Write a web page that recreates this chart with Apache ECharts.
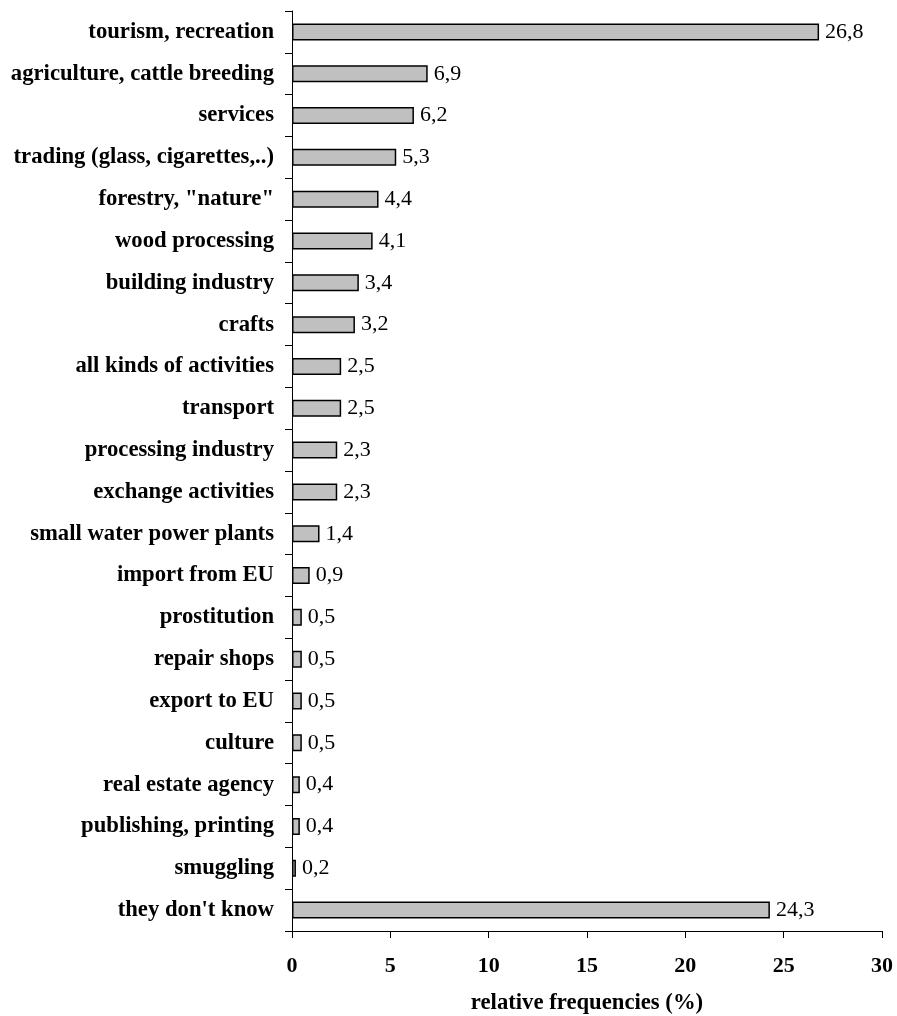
<!DOCTYPE html>
<html>
<head>
<meta charset="utf-8">
<script src="https://cdn.jsdelivr.net/npm/echarts@6/dist/echarts.min.js"></script>
<style>html,body{margin:0;padding:0;background:#fff;}#c{width:897px;height:1016px;}</style>
</head>
<body>
<div id="c"></div>
<script>
const categories = ["tourism, recreation","agriculture, cattle breeding","services","trading (glass, cigarettes,..)","forestry, \"nature\"","wood processing","building industry","crafts","all kinds of activities","transport","processing industry","exchange activities","small water power plants","import from EU","prostitution","repair shops","export to EU","culture","real estate agency","publishing, printing","smuggling","they don't know"];
const values = [26.8,6.9,6.2,5.3,4.4,4.1,3.4,3.2,2.5,2.5,2.3,2.3,1.4,0.9,0.5,0.5,0.5,0.5,0.4,0.4,0.2,24.3];
const xTicks = {min:0, max:30, interval:5};
const xTitle = "relative frequencies (%)";

const font = "'Liberation Serif','Times New Roman',serif";
const chart = echarts.init(document.getElementById('c'));
chart.setOption({
  animation:false,
  grid:{left:292, right:15, top:11, bottom:85, containLabel:false, outerBoundsMode:'none'},
  xAxis:{
    type:'value', min:xTicks.min, max:xTicks.max, interval:xTicks.interval,
    axisLine:{show:true, lineStyle:{color:'#000', width:1}},
    axisTick:{show:true, length:7, lineStyle:{color:'#000'}},
    splitLine:{show:false},
    axisLabel:{margin:24, color:'#000', fontFamily:font, fontWeight:'bold', fontSize:22},
    name:xTitle, nameLocation:'middle', nameGap:61,
    nameTextStyle:{color:'#000', fontFamily:font, fontWeight:'bold', fontSize:22.7}
  },
  yAxis:{
    type:'category', data:categories, inverse:true,
    axisLine:{show:true, lineStyle:{color:'#000', width:1}},
    axisTick:{show:true, length:7, lineStyle:{color:'#000'}},
    axisLabel:{margin:18, color:'#000', fontFamily:font, fontWeight:'bold', fontSize:22.7}
  },
  series:[{
    type:'bar', data:values, barWidth:17,
    itemStyle:{color:'#c0c0c0', borderColor:'#000', borderWidth:1.5},
    label:{show:true, position:'right', distance:6, color:'#000', fontFamily:font, fontSize:22,
      formatter:p=>String(p.value).replace('.',',')}
  }]
});
</script>
</body>
</html>
